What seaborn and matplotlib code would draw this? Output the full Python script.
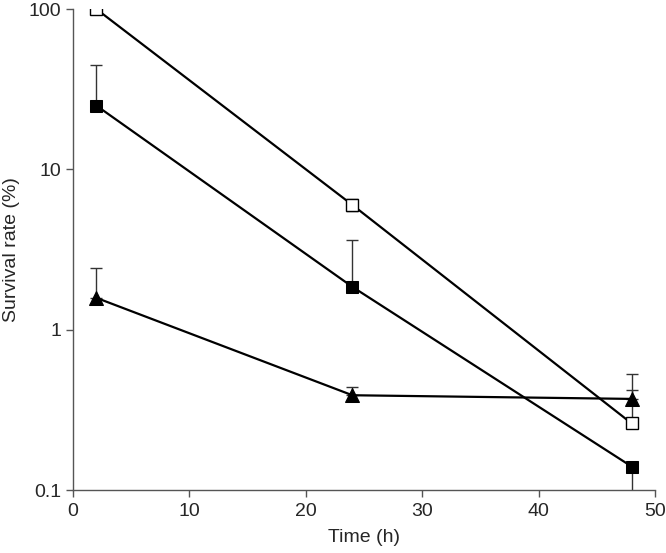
import matplotlib
matplotlib.use('Agg')
import matplotlib.pyplot as plt
import seaborn as sns
import numpy as np

# data
time_h = [2, 24, 48]
open_sq = [100, 6.0, 0.26]
open_sq_err = [0, 0.5, 0.16]
filled_sq = [25, 1.85, 0.14]
filled_sq_err = [20, 1.8, 0.0]
filled_sq_err_low = [0, 0, 0.1]
triangle = [1.58, 0.39, 0.37]
triangle_err = [0.85, 0.05, 0.16]

sns.set_theme(style='ticks')
plt.rcParams['font.family'] = ['Liberation Sans', 'DejaVu Sans']

fig = plt.figure(figsize=(6.66, 5.53), dpi=100)
ax = fig.add_axes([0.1096, 0.1139, 0.9835 - 0.1096, 0.9837 - 0.1139])

# error bars (drawn first so markers sit on top)
ax.errorbar(time_h, triangle, yerr=[[0, 0, 0], triangle_err], fmt='none',
            ecolor='#333333', elinewidth=1, capsize=4, capthick=1, zorder=1)
ax.errorbar(time_h, open_sq, yerr=[[0, 0.5, 0], open_sq_err], fmt='none',
            ecolor='#333333', elinewidth=1, capsize=4, capthick=1, zorder=1)
ax.errorbar(time_h, filled_sq, yerr=[filled_sq_err_low, filled_sq_err], fmt='none',
            ecolor='#333333', elinewidth=1, capsize=4, capthick=1, zorder=1)

# lines with markers
sns.lineplot(x=time_h, y=open_sq, ax=ax, color='black', lw=1.6, marker='s',
             markersize=9, markerfacecolor='white', markeredgecolor='black',
             markeredgewidth=1.0, zorder=3)
sns.lineplot(x=time_h, y=filled_sq, ax=ax, color='black', lw=1.6, marker='s',
             markersize=9, markerfacecolor='black', markeredgecolor='black', zorder=3)
sns.lineplot(x=time_h, y=triangle, ax=ax, color='black', lw=1.6, marker='^',
             markersize=10, markerfacecolor='black', markeredgecolor='black', zorder=3)

ax.set_yscale('log')
ax.set_xlim(0, 50)
ax.set_ylim(0.1, 100)
ax.set_xticks([0, 10, 20, 30, 40, 50])
ax.set_yticks([0.1, 1, 10, 100])
ax.set_yticklabels(['0.1', '1', '10', '100'])
ax.yaxis.set_minor_locator(matplotlib.ticker.NullLocator())
ax.set_xlabel('Time (h)', fontsize=14, labelpad=7)
ax.set_ylabel('Survival rate (%)', fontsize=14, labelpad=6)
ax.tick_params(axis='both', labelsize=14, direction='out', length=5, width=1, color='#555555')
ax.tick_params(axis='x', pad=4)
sns.despine(ax=ax)
for s in ['left', 'bottom']:
    ax.spines[s].set_color('#555555')
    ax.spines[s].set_linewidth(1)

plt.savefig('out.png', dpi=100)
